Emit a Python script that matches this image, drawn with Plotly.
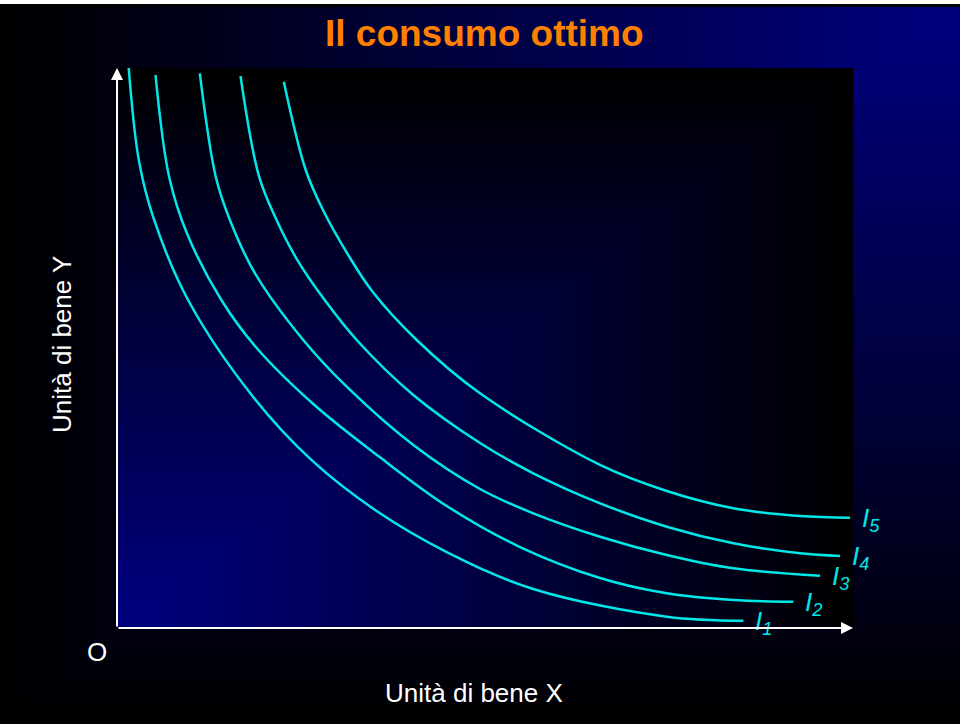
import numpy as np
import plotly.graph_objects as go

# ---------------- data (units of goods, 0..100 on each axis) ----------------
curve_names = ["1", "2", "3", "4", "5"]

i1_x = [1.59, 2.96, 4.90, 9.66, 18.48, 26.67, 35.73, 44.80, 56.56, 74.69, 85.10]
i1_y = [100.0, 83.57, 73.45, 58.57, 41.30, 29.70, 20.48, 13.57, 6.96, 2.02, 1.30]

i2_x = [5.23, 7.08, 9.50, 14.18, 18.83, 26.67, 35.73, 44.80, 54.76, 65.63, 74.69, 83.74, 91.89]
i2_y = [98.75, 80.59, 70.48, 58.57, 50.23, 40.00, 30.48, 21.79, 14.46, 8.93, 6.20, 5.00, 4.70]

i3_x = [11.25, 13.42, 15.34, 18.75, 25.31, 31.21, 40.26, 49.32, 56.56, 65.63, 74.69, 83.74, 95.52]
i3_y = [99.05, 80.59, 72.86, 63.34, 51.43, 43.09, 32.68, 24.82, 20.48, 16.30, 13.04, 10.66, 9.34]

i4_x = [16.78, 19.31, 21.68, 24.51, 28.22, 32.57, 40.26, 49.32, 56.56, 65.63, 74.69, 83.74, 92.80, 98.23]
i4_y = [98.57, 80.59, 72.86, 65.71, 58.57, 51.43, 41.61, 33.04, 27.63, 22.27, 18.09, 15.13, 13.34, 12.86]

i5_x = [22.66, 25.64, 27.99, 31.28, 34.65, 40.72, 49.32, 65.63, 74.69, 83.74, 92.80, 99.59]
i5_y = [97.55, 81.79, 74.64, 66.91, 60.18, 51.43, 41.91, 29.11, 24.46, 21.38, 20.00, 19.70]

curves_x = [i1_x, i2_x, i3_x, i4_x, i5_x]
curves_y = [i1_y, i2_y, i3_y, i4_y, i5_y]

title_text = "Il consumo ottimo"
x_title = "Unità di bene X"
y_title = "Unità di bene Y"
origin_text = "O"

# ---------------- layout constants ----------------
W, H = 960, 724
BOX_L, BOX_R, BOX_T, BOX_B = 117, 853, 68, 628
X_MAX, Y_MAX = 100.0, 100.0
PX_PER_X = (BOX_R - BOX_L) / X_MAX
X_EXT = 112.0  # extra room on the right for curve labels
NAVY = "rgb(0,0,128)"
CYAN = "#00E8E8"
FONT = "Liberation Sans, Arial, sans-serif"

fig = go.Figure()

# ---- slide background gradient (pixel coordinates axis) ----
n = 80
gx = np.linspace(4, W, n + 1)
gy = np.linspace(7, 718, n + 1)
cx = (gx[:-1] + gx[1:]) / 2
cy = (gy[:-1] + gy[1:]) / 2
U, V = np.meshgrid(cx / W, cy / H)
z_out = np.maximum(1 - U, V)
fig.add_trace(go.Heatmap(x=gx, y=gy, z=z_out, zmin=0, zmax=1, zsmooth="best",
                         colorscale=[[0, NAVY], [1, "rgb(0,0,0)"]], showscale=False,
                         hoverinfo="skip", xaxis="x", yaxis="y"))

# ---- inner plot area gradient (data axis) ----
ix = np.linspace(0, X_MAX, n + 1)
iy = np.linspace(0, Y_MAX, n + 1)
icx = (ix[:-1] + ix[1:]) / 2
icy = (iy[:-1] + iy[1:]) / 2
IU, IV = np.meshgrid(icx / X_MAX, icy / Y_MAX)
z_in = np.maximum(IU, IV)
fig.add_trace(go.Heatmap(x=ix, y=iy, z=z_in, zmin=0, zmax=1, zsmooth="best",
                         colorscale=[[0, NAVY], [1, "rgb(0,0,0)"]], showscale=False,
                         hoverinfo="skip", xaxis="x2", yaxis="y2"))

# ---- indifference curves ----
for name, xs, ys in zip(curve_names, curves_x, curves_y):
    fig.add_trace(go.Scatter(x=xs, y=ys, mode="lines", xaxis="x2", yaxis="y2",
                             line=dict(color=CYAN, width=2.5, shape="spline", smoothing=1.0),
                             name="I" + name, hoverinfo="skip", showlegend=False))

annotations = []
# curve labels at the end of each curve
for name, xs, ys in zip(curve_names, curves_x, curves_y):
    annotations.append(dict(
        x=xs[-1], y=ys[-1], xref="x2", yref="y2", showarrow=False,
        text="<i>I<sub>" + name + "</sub></i>", xanchor="left", yanchor="middle",
        xshift=10, yshift=-2,
        font=dict(family=FONT, size=26, color=CYAN)))

# axes with arrows
annotations.append(dict(x=0, y=Y_MAX, ax=0, ay=0, xref="x2", yref="y2", axref="x2", ayref="y2",
                        text="", showarrow=True, arrowhead=2, arrowsize=1.2, arrowwidth=2,
                        arrowcolor="white", standoff=0))
annotations.append(dict(x=X_MAX, y=0, ax=0, ay=0, xref="x2", yref="y2", axref="x2", ayref="y2",
                        text="", showarrow=True, arrowhead=2, arrowsize=1.2, arrowwidth=2,
                        arrowcolor="white", standoff=0))

# axis titles and origin (pixel axis)
annotations.append(dict(x=474, y=693, xref="x", yref="y", text=x_title, showarrow=False,
                        font=dict(family=FONT, size=26, color="white")))
annotations.append(dict(x=62, y=345, xref="x", yref="y", text=y_title, showarrow=False,
                        textangle=-90, font=dict(family=FONT, size=26, color="white")))
annotations.append(dict(x=97, y=652, xref="x", yref="y", text=origin_text, showarrow=False,
                        font=dict(family=FONT, size=26, color="white")))
# title
annotations.append(dict(x=484, y=33, xref="x", yref="y", text="<b>" + title_text + "</b>",
                        showarrow=False, font=dict(family=FONT, size=37, color="#FF8000")))

fig.update_layout(
    width=W, height=H, margin=dict(l=0, r=0, t=0, b=0),
    paper_bgcolor="white", plot_bgcolor="rgba(0,0,0,0)",
    showlegend=False,
    xaxis=dict(domain=[0, 1], range=[0, W], visible=False, fixedrange=True),
    yaxis=dict(domain=[0, 1], range=[H, 0], visible=False, fixedrange=True),
    xaxis2=dict(domain=[BOX_L / W, (BOX_L + X_EXT * PX_PER_X) / W], range=[0, X_EXT],
                anchor="y2", visible=False, fixedrange=True),
    yaxis2=dict(domain=[(H - BOX_B) / H, (H - BOX_T) / H], range=[0, Y_MAX],
                anchor="x2", visible=False, fixedrange=True),
    annotations=annotations,
    shapes=[dict(type="rect", xref="paper", yref="paper", x0=0, x1=1, y0=0, y1=1 - 4 / H,
                 fillcolor="black", line=dict(width=0), layer="below")],
)

fig.write_html("out.html", config={"displayModeBar": False},
               post_script="document.body.style.margin='0';document.body.style.overflow='hidden';")
